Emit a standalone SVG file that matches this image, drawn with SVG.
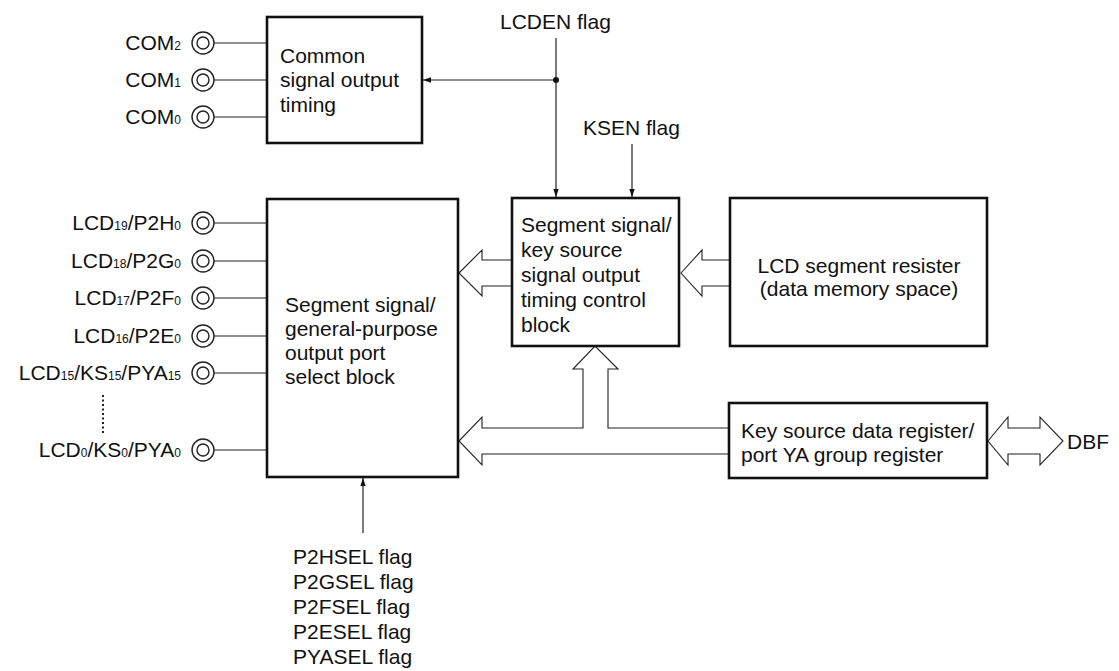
<svg xmlns="http://www.w3.org/2000/svg" width="1119" height="671" viewBox="0 0 1119 671">
<style>
text{font-family:"Liberation Sans",Arial,sans-serif;font-size:21px;fill:#111}
.sub{font-size:12px}
.box{fill:#fff;stroke:#111;stroke-width:2.6}
.ln{fill:none;stroke:#222;stroke-width:1.2}
.ha{fill:#fff;stroke:#222;stroke-width:1.1;stroke-linejoin:miter}
.pin{fill:#fff;stroke:#222;stroke-width:1.4}
</style>
<defs>
<marker id="ah" markerWidth="8" markerHeight="12" refX="12" refY="4" viewBox="0 0 12 8" orient="auto" markerUnits="userSpaceOnUse">
<path d="M0,0 L12,4 L0,8 Z" fill="#111"/>
</marker>
<g id="pinsym"><circle r="11" class="pin"/><circle r="6" class="pin"/></g>
</defs>

<g id="connectors">
<path class="ln" d="M214,43H267M214,80H267M214,117H267"/>
<path class="ln" d="M214,223H267M214,261H267M214,298H267M214,336H267M214,373H267M214,450H267"/>
<path class="ln" d="M103,395V434" stroke-dasharray="2,2.5" style="stroke-width:2"/>
<path class="ln" d="M556,38V197" marker-end="url(#ah)"/>
<path class="ln" d="M556,80H423" marker-end="url(#ah)"/>
<circle cx="556" cy="80" r="3" fill="#111"/>
<path class="ln" d="M632,144V197" marker-end="url(#ah)"/>
<path class="ln" d="M363,533V478" marker-end="url(#ah)"/>
<path class="ha" d="M459,273L482,250V260H512V286H482V296Z"/>
<path class="ha" d="M681,273L702,250V260H730V286H702V296Z"/>
<path class="ha" d="M459,441L482,417V428H583V369H573L595,346L618,369H608V428H729V454H482V465Z"/>
<path class="ha" d="M988,441L1008,417V428H1040V417L1063,441L1040,465V454H1008V465Z"/>
</g>

<g id="pins">
<use href="#pinsym" x="203" y="43"/>
<use href="#pinsym" x="203" y="80"/>
<use href="#pinsym" x="203" y="117"/>
<use href="#pinsym" x="203" y="223"/>
<use href="#pinsym" x="203" y="261"/>
<use href="#pinsym" x="203" y="298"/>
<use href="#pinsym" x="203" y="336"/>
<use href="#pinsym" x="203" y="373"/>
<use href="#pinsym" x="203" y="450"/>
<g text-anchor="end">
<text x="181" y="50">COM<tspan class="sub">2</tspan></text>
<text x="181" y="87">COM<tspan class="sub">1</tspan></text>
<text x="181" y="124">COM<tspan class="sub">0</tspan></text>
<text x="181" y="230">LCD<tspan class="sub">19</tspan>/P2H<tspan class="sub">0</tspan></text>
<text x="181" y="268">LCD<tspan class="sub">18</tspan>/P2G<tspan class="sub">0</tspan></text>
<text x="181" y="305">LCD<tspan class="sub">17</tspan>/P2F<tspan class="sub">0</tspan></text>
<text x="181" y="343">LCD<tspan class="sub">16</tspan>/P2E<tspan class="sub">0</tspan></text>
<text x="181" y="380">LCD<tspan class="sub">15</tspan>/KS<tspan class="sub">15</tspan>/PYA<tspan class="sub">15</tspan></text>
<text x="181" y="457">LCD<tspan class="sub">0</tspan>/KS<tspan class="sub">0</tspan>/PYA<tspan class="sub">0</tspan></text>
</g>
</g>

<g id="common">
<rect class="box" x="267" y="17" width="155" height="126"/>
<text x="280" y="63">Common</text>
<text x="280" y="87">signal output</text>
<text x="280" y="112">timing</text>
</g>

<g id="segsel">
<rect class="box" x="267" y="199" width="191" height="278"/>
<text x="285" y="312">Segment signal/</text>
<text x="285" y="336">general-purpose</text>
<text x="285" y="360">output port</text>
<text x="285" y="384">select block</text>
</g>

<g id="segkey">
<rect class="box" x="512" y="198" width="167" height="148"/>
<text x="521" y="232">Segment signal/</text>
<text x="521" y="257">key source</text>
<text x="521" y="282">signal output</text>
<text x="521" y="307">timing control</text>
<text x="521" y="332">block</text>
</g>

<g id="lcdreg">
<rect class="box" x="730" y="198" width="257" height="148"/>
<text x="859" y="273" text-anchor="middle">LCD segment resister</text>
<text x="859" y="296" text-anchor="middle">(data memory space)</text>
</g>

<g id="keyreg">
<rect class="box" x="729" y="403" width="258" height="75"/>
<text x="741" y="438">Key source data register/</text>
<text x="741" y="462">port YA group register</text>
</g>

<g id="labels">
<text x="500" y="29">LCDEN flag</text>
<text x="583" y="135">KSEN flag</text>
<text x="1067" y="449">DBF</text>
<text x="293" y="564">P2HSEL flag</text>
<text x="293" y="589">P2GSEL flag</text>
<text x="293" y="614">P2FSEL flag</text>
<text x="293" y="639">P2ESEL flag</text>
<text x="293" y="664">PYASEL flag</text>
</g>
</svg>
